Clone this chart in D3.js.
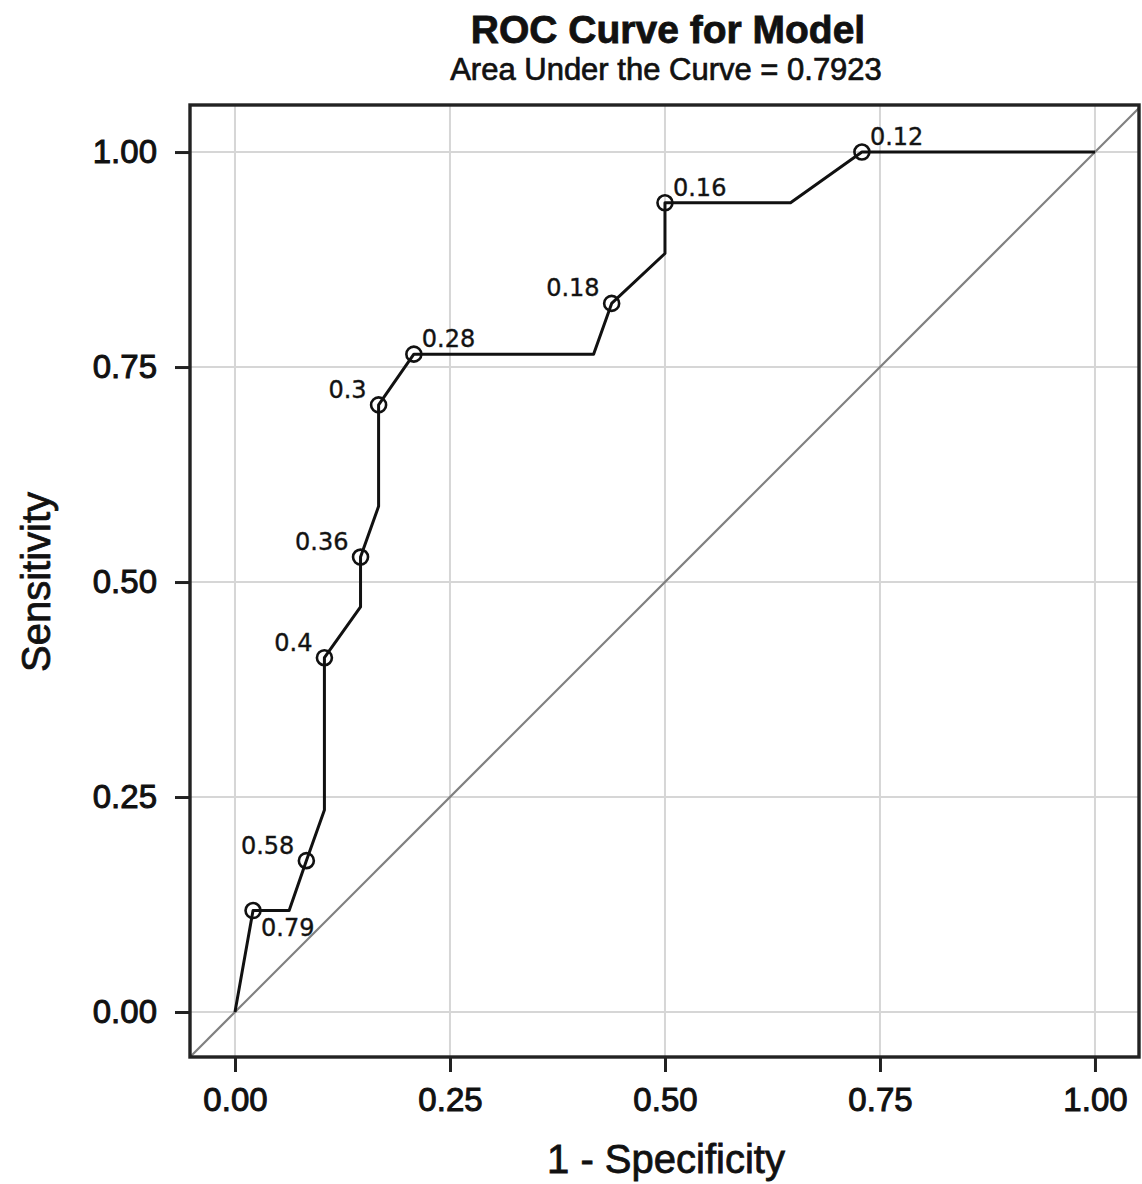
<!DOCTYPE html>
<html>
<head>
<meta charset="utf-8">
<script src="https://cdn.jsdelivr.net/npm/d3@7"></script>
<style>
  body { margin: 0; background: #fff; }
  text { font-family: "Liberation Sans", Arial, sans-serif; fill: #111; }
</style>
</head>
<body>
<div id="chart"></div>
<script>
// ROC curve points (1 - specificity, sensitivity)
const fpr = [0, 0.021, 0.063, 0.083, 0.104, 0.104, 0.146, 0.146, 0.167, 0.167, 0.208, 0.417, 0.438, 0.5, 0.5, 0.646, 0.729, 1];
const tpr = [0, 0.118, 0.118, 0.176, 0.235, 0.412, 0.471, 0.529, 0.588, 0.706, 0.765, 0.765, 0.824, 0.882, 0.941, 0.941, 1, 1];

// labelled cutoffs
const cutX = [0.021, 0.083, 0.104, 0.146, 0.167, 0.208, 0.438, 0.5, 0.729];
const cutY = [0.118, 0.176, 0.412, 0.529, 0.706, 0.765, 0.824, 0.941, 1];
const cutLabels = ["0.79", "0.58", "0.4", "0.36", "0.3", "0.28", "0.18", "0.16", "0.12"];

const tickValues = [0, 0.25, 0.5, 0.75, 1];

const width = 1142;
const height = 1184;

const svg = d3.select("#chart").append("svg").attr("width", width).attr("height", height);

// panel edges 190..1139 x 105..1057
const x = d3.scaleLinear().domain([-0.0523, 1.0512]).range([190, 1139]);
const y = d3.scaleLinear().domain([-0.0523, 1.0547]).range([1057, 105]);

svg.append("clipPath").attr("id", "panel")
  .append("rect").attr("x", 190).attr("y", 105).attr("width", 949).attr("height", 952);

// grid
svg.append("g").selectAll("line").data(tickValues).enter().append("line")
  .attr("x1", (d) => x(d)).attr("x2", (d) => x(d))
  .attr("y1", 105).attr("y2", 1057)
  .attr("stroke", "#d6d6d6").attr("stroke-width", 2);
svg.append("g").selectAll("line").data(tickValues).enter().append("line")
  .attr("y1", (d) => y(d)).attr("y2", (d) => y(d))
  .attr("x1", 190).attr("x2", 1139)
  .attr("stroke", "#d6d6d6").attr("stroke-width", 2);

// diagonal reference line
svg.append("line")
  .attr("clip-path", "url(#panel)")
  .attr("x1", x(-0.06)).attr("y1", y(-0.06))
  .attr("x2", x(1.06)).attr("y2", y(1.06))
  .attr("stroke", "#808080").attr("stroke-width", 2.2);

// ROC line
const line = d3.line().x((d, i) => x(fpr[i])).y((d, i) => y(tpr[i]));
svg.append("path")
  .datum(fpr)
  .attr("d", line)
  .attr("fill", "none")
  .attr("stroke", "#111")
  .attr("stroke-width", 3)
  .attr("stroke-linejoin", "round");

// cutoff markers
svg.append("g").selectAll("circle").data(cutLabels).enter().append("circle")
  .attr("cx", (d, i) => x(cutX[i]))
  .attr("cy", (d, i) => y(cutY[i]))
  .attr("r", 7.5)
  .attr("fill", "none")
  .attr("stroke", "#111")
  .attr("stroke-width", 2.6);

// label placement: "br" below right, "tl" above left, "tr" above right
const side = ["br", "tl", "tl", "tl", "tl", "tr", "tl", "tr", "tr"];
svg.append("g").selectAll("text").data(cutLabels).enter().append("text")
  .attr("x", (d, i) => x(cutX[i]) + (side[i] === "tl" ? -12 : 8))
  .attr("y", (d, i) => y(cutY[i]) + (side[i] === "br" ? 25 : -7))
  .attr("text-anchor", (d, i) => (side[i] === "tl" ? "end" : "start"))
  .style("font-family", "'DejaVu Sans', Verdana, sans-serif")
  .style("font-size", "24px")
  .style("stroke", "#222").style("stroke-width", 0.4)
  .text((d) => d);

// panel border
svg.append("rect")
  .attr("x", 190).attr("y", 105).attr("width", 949).attr("height", 952)
  .attr("fill", "none").attr("stroke", "#222").attr("stroke-width", 3.4);

// axes
const xAxis = svg.append("g").attr("transform", "translate(0,1057)")
  .call(d3.axisBottom(x).tickValues(tickValues).tickFormat(d3.format(".2f")).tickSize(15).tickPadding(16));
const yAxis = svg.append("g").attr("transform", "translate(190,0)")
  .call(d3.axisLeft(y).tickValues(tickValues).tickFormat(d3.format(".2f")).tickSize(15).tickPadding(18));
[xAxis, yAxis].forEach((ax) => {
  ax.select(".domain").remove();
  ax.selectAll(".tick line").attr("stroke", "#222").attr("stroke-width", 3);
  ax.selectAll(".tick text")
    .attr("fill", "#111")
    .style("font-family", "'Liberation Sans', Arial, sans-serif")
    .style("font-size", "33px")
    .style("stroke", "#111").style("stroke-width", 1);
});

// titles
svg.append("text").attr("x", 668).attr("y", 43).attr("text-anchor", "middle")
  .style("font-size", "39px").style("font-weight", "bold")
  .style("stroke", "#111").style("stroke-width", 0.8).text("ROC Curve for Model");
svg.append("text").attr("x", 666).attr("y", 80).attr("text-anchor", "middle")
  .style("font-size", "31px")
  .style("stroke", "#111").style("stroke-width", 0.7).text("Area Under the Curve = 0.7923");
svg.append("text").attr("x", 666).attr("y", 1173).attr("text-anchor", "middle")
  .style("font-size", "40px").style("stroke", "#111").style("stroke-width", 0.8)
  .text("1 - Specificity");
svg.append("text").attr("transform", "translate(50,582) rotate(-90)").attr("text-anchor", "middle")
  .style("font-size", "40px").style("stroke", "#111").style("stroke-width", 0.8)
  .text("Sensitivity");
</script>
</body>
</html>
